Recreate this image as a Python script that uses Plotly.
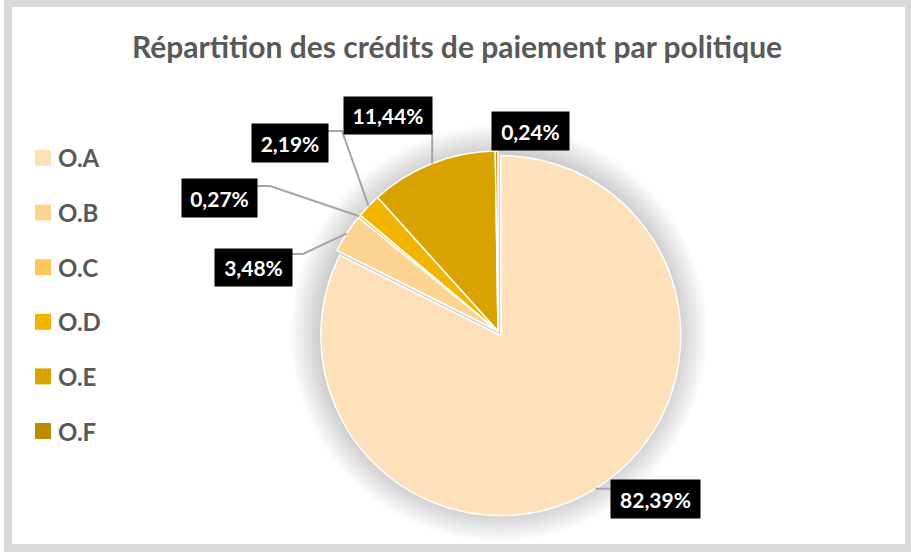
import math
import plotly.graph_objects as go

# Data
categories = ["O.A", "O.B", "O.C", "O.D", "O.E", "O.F"]
shares = [82.39, 3.48, 0.27, 2.19, 11.44, 0.24]
value_labels = ["82,39%", "3,48%", "0,27%", "2,19%", "11,44%", "0,24%"]
colors = ["#FEE0BB", "#FDD393", "#FEC658", "#F1B500", "#D8A200", "#BB8B00"]

W, H = 911, 552
FONT = "Lato"
TEXT_GREY = "#595959"
LEADER = "#A6A6A6"

# Pie geometry (pixels)
CX, CY, R = 498.0, 331.0, 180.0
pulls = [0.03, 0, 0, 0, 0, 0]
max_pull = max(pulls)
box = 2 * R * (1 + max_pull)


def fx(x):
    return x / W


def fy(y):
    return 1 - y / H


# Label box centres and leader elbows (pixels); None = no leader
label_pos = [(655, 499), (253, 267), (219, 198), (290, 143), (388, 115), (530, 131)]
box_size = [(89, 38), (77, 37), (75, 38), (76, 38), (88, 37), (77, 38)]
elbows = [
    [(611, None)],
    [(292, 254), (303, 254)],
    [(257, 186), (270, 186)],
    [(328, 131), (342, 131)],
    [(432, 130)],
    None,
]

fig = go.Figure()
fig.add_trace(go.Pie(
    labels=categories,
    values=shares,
    sort=False,
    direction="clockwise",
    rotation=0,
    pull=pulls,
    marker=dict(colors=colors, line=dict(color="white", width=1.5)),
    textinfo="none",
    hoverinfo="label+percent",
    showlegend=False,
    domain=dict(x=[fx(CX - box / 2), fx(CX + box / 2)],
                y=[fy(CY + box / 2), fy(CY - box / 2)]),
))

shapes = []
# Outer frame
shapes.append(dict(type="rect", xref="paper", yref="paper", layer="below",
                   x0=fx(4), x1=fx(911), y0=fy(552), y1=fy(0),
                   fillcolor="#D9D9D9", line=dict(width=0)))
shapes.append(dict(type="rect", xref="paper", yref="paper", layer="below",
                   x0=fx(12), x1=fx(905), y0=fy(544), y1=fy(7),
                   fillcolor="white", line=dict(width=0)))
# Soft shadow under the pie
for i in range(12):
    rr = R + 28 - i * 2.4
    shapes.append(dict(type="circle", xref="paper", yref="paper", layer="below",
                       x0=fx(CX + 1 - rr), x1=fx(CX + 1 + rr),
                       y0=fy(CY + 2 + rr), y1=fy(CY + 2 - rr),
                       fillcolor="rgba(0,0,0,0.014)", line=dict(width=0)))

# Leader lines from each slice's mid-angle to its label
total = sum(shares)
cum = 0.0
annotations = []
for i, v in enumerate(shares):
    mid = (cum + v / 2) / total * 2 * math.pi
    cum += v
    off = pulls[i] * R
    ax = CX + (R + off) * math.sin(mid)
    ay = CY - (R + off) * math.cos(mid)
    pts = elbows[i]
    if pts is not None:
        path_pts = []
        for (px_, py_) in pts:
            path_pts.append((px_, ay if py_ is None else py_))
        if i == 4:
            path_pts = [(ax, 130)]
        path_pts.append((ax, ay))
        d = "M " + " L ".join(f"{fx(p[0])},{fy(p[1])}" for p in path_pts)
        shapes.append(dict(type="path", xref="paper", yref="paper", path=d,
                           line=dict(color=LEADER, width=2)))
    bx, by = label_pos[i]
    bw, bh = box_size[i]
    annotations.append(dict(
        x=fx(bx), y=fy(by), xref="paper", yref="paper", showarrow=False,
        text=f"<b>{value_labels[i]}</b>", width=bw, height=bh, bgcolor="black",
        borderpad=0, font=dict(family=FONT, size=21, color="white"),
        xanchor="center", yanchor="middle"))

# Legend
leg_y0, leg_step = 158.0, 54.6
for i, name in enumerate(categories):
    y = leg_y0 + i * leg_step
    shapes.append(dict(type="rect", xref="paper", yref="paper",
                       x0=fx(35), x1=fx(51), y0=fy(y + 8), y1=fy(y - 8),
                       fillcolor=colors[i], line=dict(width=0)))
    annotations.append(dict(
        x=fx(56), y=fy(y), xref="paper", yref="paper", showarrow=False,
        text=f"<b>{name}</b>", xanchor="left", yanchor="middle",
        font=dict(family=FONT, size=24, color=TEXT_GREY)))

# Title
annotations.append(dict(
    x=fx(457), y=fy(46), xref="paper", yref="paper", showarrow=False,
    text="<b>Répartition des crédits de paiement par politique</b>",
    xanchor="center", yanchor="middle",
    font=dict(family=FONT, size=30, color=TEXT_GREY)))

fig.update_layout(
    width=W, height=H,
    margin=dict(l=0, r=0, t=0, b=0),
    paper_bgcolor="white",
    plot_bgcolor="white",
    shapes=shapes,
    annotations=annotations,
)

fig.write_html("out.html", config={"displayModeBar": False})
